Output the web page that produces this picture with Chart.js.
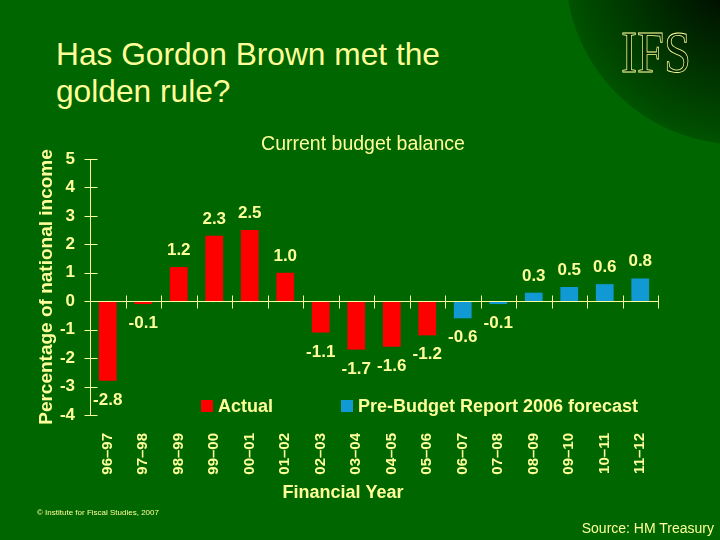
<!DOCTYPE html>
<html>
<head>
<meta charset="utf-8">
<script src="https://cdn.jsdelivr.net/npm/chart.js@4"></script>
<style>
  html, body { margin: 0; padding: 0; }
  body {
    width: 720px; height: 540px; position: relative; overflow: hidden;
    font-family: "Liberation Sans", Arial, sans-serif; color: #ffff99;
    background:
      radial-gradient(circle 175px at 740px -30px, #000 0%, #002600 45%, #004800 88%, #005200 99.3%, rgba(0,80,0,0) 100%),
      #006600;
  }
  #title  { position: absolute; left: 56px; top: 36px; font-size: 31.7px; line-height: 37px; }
  #logo   { position: absolute; left: 621px; top: 23px; font-family: "Liberation Serif", "DejaVu Serif", serif; font-size: 59px; line-height: 1;
            color: rgba(0,30,0,0.5); -webkit-text-stroke: 0.8px #ffff99; transform: scaleX(0.82); transform-origin: left top; }
  #copy   { position: absolute; left: 37px; top: 508px; font-size: 8px; line-height: 10px; }
  #source { position: absolute; right: 6px; top: 520px; font-size: 14px; line-height: 16px; }
  canvas  { position: absolute; left: 0; top: 0; }
</style>
</head>
<body>
<div id="title">Has Gordon Brown met the<br>golden rule?</div>
<div id="logo">IFS</div>
<canvas id="chart" width="720" height="540"></canvas>
<div id="copy">© Institute for Fiscal Studies, 2007</div>
<div id="source">Source: HM Treasury</div>

<script>
// ---------------------------------------------------------------------------
// Data
// ---------------------------------------------------------------------------
const years = ["96–97", "97–98", "98–99", "99–00", "00–01", "01–02", "02–03", "03–04",
               "04–05", "05–06", "06–07", "07–08", "08–09", "09–10", "10–11", "11–12"];
const actual   = [-2.8, -0.1, 1.2, 2.3, 2.5, 1.0, -1.1, -1.7, -1.6, -1.2,
                  null, null, null, null, null, null];
const forecast = [null, null, null, null, null, null, null, null, null, null,
                  -0.6, -0.1, 0.3, 0.5, 0.6, 0.8];
const yMin = -4, yMax = 5;

const YEL  = "#ffff99";
const FONT = '"Liberation Sans", Arial, sans-serif';

// ---------------------------------------------------------------------------
// Custom drawing: axes with crossing ticks, value labels, legend, captions
// ---------------------------------------------------------------------------
const decorations = {
  id: "decorations",
  afterDatasetsDraw(chart) {
    const { ctx, chartArea: area, scales: { x, y } } = chart;
    ctx.save();
    ctx.strokeStyle = YEL;
    ctx.lineWidth = 1;

    // y axis line + ticks
    const ax = Math.round(area.left) + 0.5;
    ctx.beginPath();
    ctx.moveTo(ax, y.getPixelForValue(yMax));
    ctx.lineTo(ax, y.getPixelForValue(yMin));
    for (let v = yMin; v <= yMax; v++) {
      const py = Math.round(y.getPixelForValue(v)) + 0.5;
      ctx.moveTo(ax - 6, py);
      ctx.lineTo(ax + 7, py);
    }
    // zero line + category boundary ticks
    const zy = Math.round(y.getPixelForValue(0)) + 0.5;
    ctx.moveTo(area.left, zy);
    ctx.lineTo(area.right, zy);
    const step = (area.right - area.left) / years.length;
    for (let i = 1; i <= years.length; i++) {
      const px = Math.round(area.left + i * step) + 0.5;
      ctx.moveTo(px, zy - 6);
      ctx.lineTo(px, zy + 7);
    }
    ctx.stroke();

    // value labels
    ctx.fillStyle = YEL;
    ctx.font = `bold 17px ${FONT}`;
    ctx.textAlign = "center";
    ctx.textBaseline = "alphabetic";
    chart.data.datasets.forEach((ds, di) => {
      chart.getDatasetMeta(di).data.forEach((bar, i) => {
        const v = ds.data[i];
        if (v == null) return;
        const py = v >= 0 ? bar.y - 12 : bar.y + 24;
        ctx.fillText(v.toFixed(1), bar.x, py);
      });
    });

    // legend
    const legendPos = [[201, 218], [341, 358]];
    ctx.textAlign = "left";
    ctx.font = `bold 18px ${FONT}`;
    chart.data.datasets.forEach((ds, di) => {
      const [bx, tx] = legendPos[di];
      ctx.fillStyle = ds.backgroundColor;
      ctx.fillRect(bx, 400, 12, 12);
      ctx.fillStyle = YEL;
      ctx.fillText(ds.label, tx, 412);
    });

    // captions
    ctx.textAlign = "center";
    ctx.font = `19.5px ${FONT}`;
    ctx.fillText("Current budget balance", 363, 150);
    ctx.font = `bold 18px ${FONT}`;
    ctx.fillText("Financial Year", 343, 498);
    ctx.restore();
  }
};

// ---------------------------------------------------------------------------
// Chart
// ---------------------------------------------------------------------------
new Chart(document.getElementById("chart"), {
  type: "bar",
  data: {
    labels: years,
    datasets: [
      { label: "Actual", data: actual, backgroundColor: "#ff0000" },
      { label: "Pre-Budget Report 2006 forecast", data: forecast, backgroundColor: "#1199d4" },
    ],
  },
  options: {
    responsive: false,
    animation: false,
    barPercentage: 0.5,
    categoryPercentage: 1,
    layout: { padding: { left: 35, top: 159, right: 62, bottom: 36 } },
    plugins: { legend: { display: false }, tooltip: { enabled: false } },
    scales: {
      x: {
        stacked: true,
        grid: { display: false, drawTicks: false },
        border: { display: false },
        ticks: {
          color: YEL, font: { family: FONT, size: 15, weight: "bold" },
          minRotation: 90, maxRotation: 90, autoSkip: false, padding: 18,
        },
        afterFit: s => { s.height = 540 - 36 - 415; },
      },
      y: {
        stacked: true,
        min: yMin, max: yMax,
        grid: { display: false, drawTicks: false },
        border: { display: false },
        ticks: { stepSize: 1, color: YEL, font: { family: FONT, size: 17, weight: "bold" }, padding: 15 },
        title: {
          display: true, text: "Percentage of national income", color: YEL,
          font: { family: FONT, size: 19, weight: "bold" }, padding: 0,
        },
        afterFit: s => { s.width = 55; },
      },
    },
  },
  plugins: [decorations],
});
</script>
</body>
</html>
